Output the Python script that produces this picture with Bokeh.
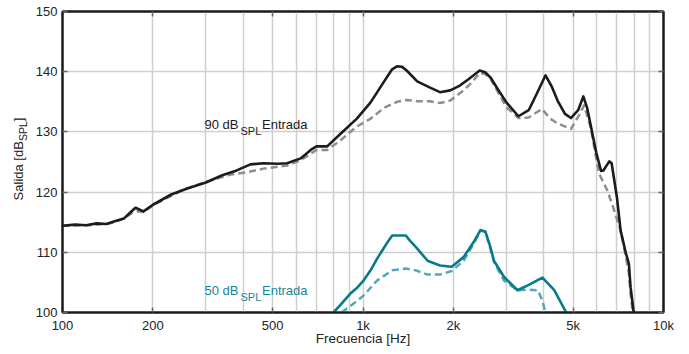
from bokeh.plotting import figure
from bokeh.models import Range1d, FixedTicker, LogAxis, LinearAxis, Label, Div
from bokeh.layouts import row
from bokeh.embed import file_html
from bokeh.resources import INLINE

# ---------------- data ----------------
f_90_solid = [100, 110, 120, 130, 140, 150, 160, 168, 175, 186, 200, 230, 260, 300,
              340, 380, 422, 466, 520, 559, 620, 670, 700, 760, 842, 954, 1060, 1176,
              1250, 1297, 1350, 1397, 1515, 1665, 1804, 1951, 2101, 2250, 2445, 2550,
              2660, 2800, 3000, 3290, 3560, 3800, 4050, 4250, 4440, 4700, 4920, 5200,
              5410, 5570, 5970, 6200, 6310, 6600, 6720, 7000, 7200, 7500, 7670, 7770, 7960]
db_90_solid = [114.4, 114.6, 114.5, 114.8, 114.7, 115.2, 115.6, 116.6, 117.4, 116.8,
               117.9, 119.6, 120.6, 121.6, 122.8, 123.6, 124.6, 124.8, 124.7, 124.8,
               125.6, 127.0, 127.6, 127.6, 129.7, 132.2, 134.9, 138.4, 140.4, 140.9,
               140.8, 140.2, 138.4, 137.4, 136.6, 136.9, 137.7, 138.8, 140.2, 139.9,
               139.0, 137.2, 134.9, 132.6, 133.6, 136.5, 139.4, 137.5, 135.2, 133.0,
               132.3, 133.6, 135.9, 134.0, 126.6, 123.5, 123.6, 125.1, 124.8, 119.1,
               113.6, 109.8, 108.1, 104.2, 100.0]

f_90_dash = [100, 120, 140, 150, 160, 170, 178, 186, 200, 250, 300, 362, 412, 466, 559,
             620, 700, 760, 842, 954, 1060, 1176, 1297, 1397, 1515, 1665, 1804, 1951,
             2162, 2300, 2445, 2550, 2660, 3000, 3290, 3560, 3940, 4200, 4440, 4920,
             5270, 5440, 5720, 6100, 6500, 6850, 7200, 7500, 7670, 7770, 7900]
db_90_dash = [114.4, 114.5, 114.7, 115.0, 115.6, 116.5, 116.8, 116.7, 117.8, 120.3,
              121.7, 122.9, 123.3, 123.9, 124.4, 125.3, 127.0, 127.0, 128.6, 130.9,
              132.2, 134.0, 135.0, 135.3, 135.1, 135.1, 134.8, 135.2, 136.9, 138.2,
              139.8, 139.6, 138.8, 134.1, 132.3, 132.4, 133.8, 132.2, 131.4, 130.5,
              133.0, 134.4, 130.8, 123.1, 120.3, 117.0, 113.6, 109.2, 106.5, 103.1, 100.0]

f_50_solid = [798, 850, 906, 960, 1004, 1060, 1113, 1200, 1251, 1320, 1387, 1440, 1498,
              1640, 1804, 1973, 2162, 2335, 2459, 2556, 2650, 2728, 2947, 3266, 3536,
              3954, 4330, 4745]
db_50_solid = [100.0, 101.5, 103.1, 104.2, 105.3, 107.0, 108.9, 111.5, 112.8, 112.8,
               112.8, 111.8, 110.9, 108.6, 107.8, 107.6, 109.2, 111.7, 113.7, 113.4,
               111.0, 108.6, 105.9, 103.7, 104.5, 105.8, 103.7, 100.0]

f_50_dash = [848, 920, 1004, 1113, 1251, 1387, 1500, 1640, 1804, 1973, 2162, 2335, 2459,
             2556, 2728, 2947, 3266, 3536, 3820, 3950, 4050]
db_50_dash = [100.0, 101.3, 102.8, 105.3, 107.0, 107.3, 107.0, 106.3, 106.3, 106.9,
              108.6, 111.4, 113.6, 113.4, 108.4, 105.3, 103.7, 103.8, 103.7, 102.0, 100.0]

x_tick_values = [100, 200, 500, 1000, 2000, 5000, 10000]
x_tick_labels = ["100", "200", "500", "1k", "2k", "5k", "10k"]
x_grid_values = [100, 200, 300, 400, 500, 600, 700, 800, 900,
                 1000, 2000, 3000, 4000, 5000, 6000, 7000, 8000, 9000, 10000]
y_tick_values = [100, 110, 120, 130, 140, 150]

# ---------------- layout ----------------
W, H = 689, 354
DIV_W = 28
LEFT, RIGHT, TOP, BOTTOM = 62, 26, 11, 42
PW = W - DIV_W
FW, FH = W - LEFT - RIGHT, H - TOP - BOTTOM
FONT = "Liberation Sans"


def fx(px):
    return 100 * 10 ** ((px - LEFT) / (FW / 2.0))


def fy(py):
    return 150 - (py - TOP) * 50.0 / FH


p = figure(width=PW, height=H, x_axis_type="log",
           x_range=Range1d(100, 10000), y_range=Range1d(100, 150),
           output_backend="svg", toolbar_location=None,
           min_border_left=LEFT - DIV_W, min_border_right=RIGHT,
           min_border_top=TOP, min_border_bottom=BOTTOM)
p.background_fill_color = "white"
p.border_fill_color = "white"
p.outline_line_color = "#1a1a1a"
p.outline_line_width = 2

for ax in (p.xaxis[0], p.yaxis[0]):
    ax.axis_line_color = "#1a1a1a"
    ax.axis_line_width = 2
    ax.major_tick_in = 5
    ax.major_tick_out = 0
    ax.major_tick_line_color = "#666666"
    ax.major_tick_line_width = 1.5
    ax.minor_tick_line_color = None
    ax.major_label_text_font = FONT
    ax.major_label_text_font_size = "13px"
    ax.major_label_text_color = "#222222"
    ax.major_label_standoff = 5

p.xaxis[0].ticker = FixedTicker(ticks=x_tick_values)
p.xaxis[0].major_label_overrides = {v: s for v, s in zip(x_tick_values, x_tick_labels)}
p.yaxis[0].ticker = FixedTicker(ticks=y_tick_values)

p.xaxis[0].axis_label = "Frecuencia [Hz]"
p.xaxis[0].axis_label_text_font = FONT
p.xaxis[0].axis_label_text_font_size = "13.5px"
p.xaxis[0].axis_label_text_font_style = "normal"
p.xaxis[0].axis_label_text_color = "#222222"
p.xaxis[0].axis_label_standoff = -5

# mirrored ticks on top and right (box style), without labels
common = dict(major_label_text_font_size="0px", major_label_text_color=None,
              major_label_standoff=0, major_tick_in=5, major_tick_out=0,
              major_tick_line_color="#666666", major_tick_line_width=1.5,
              minor_tick_line_color=None, axis_line_color="#1a1a1a", axis_line_width=2)
top_ax = LogAxis(ticker=FixedTicker(ticks=x_tick_values), **common)
right_ax = LinearAxis(ticker=FixedTicker(ticks=y_tick_values), **common)
p.add_layout(top_ax, "above")
p.add_layout(right_ax, "right")

p.xgrid.ticker = FixedTicker(ticks=x_grid_values)
p.xgrid.grid_line_color = "#cfcfcf"
p.xgrid.grid_line_width = 1.5
p.ygrid.grid_line_color = "#cfcfcf"
p.ygrid.grid_line_width = 1.5

# ---------------- curves ----------------
p.line(f_90_dash, db_90_dash, line_color="#8e8e8e", line_width=2.5, line_dash="7 4",
       line_join="round")
p.line(f_90_solid, db_90_solid, line_color="#1c1c1c", line_width=2.6, line_join="round")
p.line(f_50_dash, db_50_dash, line_color="#52a8b8", line_width=2.5, line_dash="7 4",
       line_join="round")
p.line(f_50_solid, db_50_solid, line_color="#087a8a", line_width=2.6, line_join="round")

# ---------------- in-plot texts ----------------
def add_label(px, py, text, size, color):
    p.add_layout(Label(x=fx(px), y=fy(py), text=text, text_font=FONT,
                       text_font_size=size, text_color=color,
                       text_align="left", text_baseline="alphabetic"))


BLACK_T = "#1a1a1a"
TEAL_T = "#13879a"
add_label(204, 123.5, "90 dB", "13px", BLACK_T)
add_label(240, 130, "SPL", "11px", BLACK_T)
add_label(261.5, 123.5, "Entrada", "13px", BLACK_T)

add_label(204, 289.5, "50 dB", "13px", TEAL_T)
add_label(240, 296, "SPL", "11px", TEAL_T)
add_label(261.5, 289.5, "Entrada", "13px", TEAL_T)

# ---------------- y-axis title (rotated, with subscript) ----------------
ylab = Div(
    text=('<div style="position:absolute; left:18px; top:159px; '
          'transform: translate(-50%, -50%) rotate(-90deg); white-space:nowrap; '
          'font-family:\'Liberation Sans\'; font-size:13px; color:#222222; line-height:1;">'
          'Salida [dB<span style="font-size:10.5px; position:relative; top:4px;">SPL</span>]'
          '</div>'),
    width=DIV_W, height=H, margin=0,
    styles={"position": "relative", "overflow": "visible"})

layout = row(ylab, p, spacing=0)
open("out.html", "w").write(file_html(layout, INLINE))
